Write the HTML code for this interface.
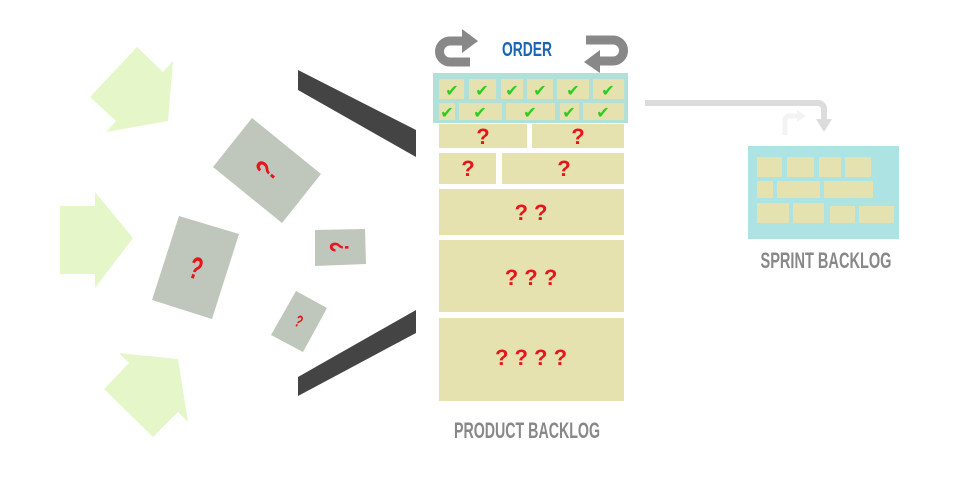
<!DOCTYPE html>
<html><head><meta charset="utf-8"><style>html,body{margin:0;padding:0;background:#fff;width:962px;height:490px;overflow:hidden}</style></head>
<body>
<svg width="962" height="490" viewBox="0 0 962 490" xmlns="http://www.w3.org/2000/svg">
<rect width="962" height="490" fill="#fff"/>
<g fill="#e5f7c8">
<polygon points="137,47 163,72 173,61 168,121 106,132 116,121 90,97"/>
<polygon points="60,206 95,206 95,192 133,238 95,288 95,274 60,274"/>
<polygon points="119,353 178,359 188,422 178,412 153,437 104,389 129,363"/>
</g>
<g fill="#444">
<polygon points="298,70 416,130 416,157 298,90"/>
<polygon points="298,377 416,310 416,333 298,396"/>
</g>
<g fill="#bfc6bb">
<polygon points="252,118 321,174 282,223 213,167"/>
<polygon points="179,216 239,234 212,319 152,300"/>
<polygon points="315,230 365,229 366,264 315,266"/>
<polygon points="296,291 327,308 303,352 271,335"/>
</g>
<g fill="#e8141b" font-family="Liberation Sans Narrow, Liberation Sans, sans-serif" font-weight="bold" text-anchor="middle">
<text x="0" y="0" font-size="26" transform="translate(267,171) rotate(-50) scale(0.8,1.2)" dy="8">?</text>
<text x="0" y="0" font-size="26" transform="translate(196,268) rotate(17) scale(0.8,1.2)" dy="9">?</text>
<text x="0" y="0" font-size="22" transform="translate(340,247) rotate(-90) scale(0.8,1.2)" dy="7">?</text>
<text x="0" y="0" font-size="14" transform="translate(299,321) rotate(25) scale(0.8,1.2)" dy="5">?</text>
</g>
<!-- order arrows -->
<g fill="none" stroke="#888" stroke-width="9">
<path d="M470,62 H450 A10.5 10.5 0 0 1 450,41 H465"/>
<path d="M586,40 H613 A10.5 10.5 0 0 1 613,61 H598"/>
</g>
<g fill="#888">
<polygon points="462,29 478,41 462,53"/>
<polygon points="600,50 600,73 584,62"/>
</g>
<text x="527" y="56" font-family="Liberation Sans Narrow, Liberation Sans, sans-serif" font-weight="bold" font-size="20" fill="#1a66b0" text-anchor="middle" textLength="50" lengthAdjust="spacingAndGlyphs">ORDER</text>
<!-- product backlog -->
<rect x="433" y="73" width="195" height="50" fill="#b0e0d8"/>
<g fill="#e6e2af">
<rect x="439" y="79" width="25" height="20"/><rect x="469" y="79" width="27" height="20"/><rect x="501" y="79" width="22" height="20"/><rect x="527" y="79" width="26" height="20"/><rect x="557" y="79" width="32" height="20"/><rect x="593" y="79" width="31" height="20"/>
<rect x="439" y="103" width="16" height="17"/><rect x="459" y="103" width="43" height="17"/><rect x="506" y="103" width="49" height="17"/><rect x="560" y="103" width="19" height="17"/><rect x="583" y="103" width="41" height="17"/>
<rect x="439" y="124" width="88" height="24"/><rect x="532" y="124" width="92" height="24"/>
<rect x="439" y="153" width="57" height="31"/><rect x="502" y="153" width="122" height="31"/>
<rect x="439" y="189" width="185" height="46"/>
<rect x="439" y="240" width="185" height="72"/>
<rect x="439" y="318" width="185" height="83"/>
</g>
<g fill="#2ecc1e" font-family="DejaVu Sans, sans-serif" font-size="16" font-weight="bold" text-anchor="middle">
<text x="452" y="96">✔</text><text x="482" y="96">✔</text><text x="512" y="96">✔</text><text x="540" y="96">✔</text><text x="573" y="96">✔</text><text x="608" y="96">✔</text>
<text x="447" y="118">✔</text><text x="480" y="118">✔</text><text x="530" y="118">✔</text><text x="569" y="118">✔</text><text x="603" y="118">✔</text>
</g>
<g fill="#e8141b" font-family="Liberation Sans Narrow, Liberation Sans, sans-serif" font-weight="bold" font-size="22" text-anchor="middle">
<text x="483" y="144">?</text><text x="578" y="144">?</text>
<text x="468" y="176">?</text><text x="564" y="176">?</text>
<text x="531" y="220">?  ?</text>
<text x="531" y="285">?  ?  ?</text>
<text x="531" y="365">? ? ? ?</text>
</g>
<text x="527" y="438" font-family="Liberation Sans Narrow, Liberation Sans, sans-serif" font-weight="bold" font-size="22" fill="#888" text-anchor="middle" textLength="146" lengthAdjust="spacingAndGlyphs">PRODUCT BACKLOG</text>
<!-- connector -->
<path d="M645,103 H818 A6 6 0 0 1 824,109 V120" fill="none" stroke="#dcdcdc" stroke-width="6"/>
<polygon points="816,119 832,119 824,132" fill="#dcdcdc"/>
<path d="M785,135 V120 A4 4 0 0 1 789,116 H798" fill="none" stroke="#f3f3f3" stroke-width="5"/>
<polygon points="797,110 806,116 797,122" fill="#f3f3f3"/>
<!-- sprint backlog -->
<rect x="748" y="146" width="151" height="93" fill="#ade3e3"/>
<g fill="#e6e2af">
<rect x="757" y="157" width="25" height="20"/><rect x="787" y="157" width="27" height="20"/><rect x="819" y="157" width="22" height="20"/><rect x="845" y="157" width="26" height="20"/>
<rect x="757" y="181" width="16" height="17"/><rect x="777" y="181" width="43" height="17"/><rect x="824" y="181" width="49" height="17"/>
<rect x="757" y="203" width="32" height="20"/><rect x="793" y="203" width="31" height="20"/><rect x="830" y="206" width="25" height="17"/><rect x="859" y="206" width="35" height="17"/>
</g>
<text x="826" y="268" font-family="Liberation Sans Narrow, Liberation Sans, sans-serif" font-weight="bold" font-size="22" fill="#888" text-anchor="middle" textLength="131" lengthAdjust="spacingAndGlyphs">SPRINT BACKLOG</text>
</svg>
</body></html>
